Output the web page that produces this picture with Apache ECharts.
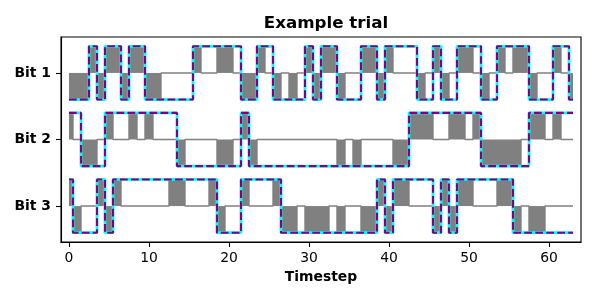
<!DOCTYPE html>
<html>
<head>
<meta charset="utf-8">
<script src="https://cdn.jsdelivr.net/npm/echarts@6/dist/echarts.min.js"></script>
<style>html,body{margin:0;padding:0;background:#fff}#c{width:600px;height:300px}</style>
</head>
<body>
<div id="c"></div>
<script>
// ---- data ----
const timesteps = Array.from({length: 64}, (_, i) => i);
const bitLabels = ['Bit 1', 'Bit 2', 'Bit 3'];      // top to bottom
const bitOffsets = [5, 2.5, 0];                      // vertical spacing 2.5
const xTickValues = [0, 10, 20, 30, 40, 50, 60];

const inputBit1 = [-1,-1,-1,1,-1,1,1,-1,1,1, -1,-1,0,0,0,0,1,0,0,1, 1,0,-1,-1,1,0,-1,0,-1,0,
                   1,-1,1,1,-1,0,0,1,1,-1, 1,0,0,0,-1,0,1,-1,0,1, 1,0,-1,0,1,0,1,1,-1,0, 0,1,0,-1];
const inputBit2 = [1,0,-1,-1,0,1,0,0,1,0, 1,0,0,0,-1,0,0,0,0,-1, -1,0,1,-1,0,0,0,0,0,0,
                   0,0,0,0,-1,0,-1,0,0,0, 0,-1,-1,1,1,1,0,0,1,1, 0,1,-1,-1,-1,-1,-1,0,1,1, 0,1,0,0];
const inputBit3 = [1,-1,0,0,1,-1,1,0,0,0, 0,0,0,1,1,0,0,0,1,-1, 0,0,1,0,0,0,1,-1,-1,0,
                   -1,-1,-1,0,-1,0,0,-1,-1,1, -1,1,1,0,0,0,-1,1,-1,1, 1,0,0,0,1,1,-1,0,-1,-1, 0,0,0,0];

const targetBit1 = [-1,-1,-1,1,-1,1,1,-1,1,1, -1,-1,-1,-1,-1,-1,1,1,1,1, 1,1,-1,-1,1,1,-1,-1,-1,-1,
                    1,-1,1,1,-1,-1,-1,1,1,-1, 1,1,1,1,-1,-1,1,-1,-1,1, 1,1,-1,-1,1,1,1,1,-1,-1, -1,1,1,-1];
const targetBit2 = [1,1,-1,-1,-1,1,1,1,1,1, 1,1,1,1,-1,-1,-1,-1,-1,-1, -1,-1,1,-1,-1,-1,-1,-1,-1,-1,
                    -1,-1,-1,-1,-1,-1,-1,-1,-1,-1, -1,-1,-1,1,1,1,1,1,1,1, 1,1,-1,-1,-1,-1,-1,-1,1,1, 1,1,1,1];
const targetBit3 = [1,-1,-1,-1,1,-1,1,1,1,1, 1,1,1,1,1,1,1,1,1,-1, -1,-1,1,1,1,1,1,-1,-1,-1,
                    -1,-1,-1,-1,-1,-1,-1,-1,-1,1, -1,1,1,1,1,1,-1,1,-1,1, 1,1,1,1,1,1,-1,-1,-1,-1, -1,-1,-1,-1];

// RNN output follows the target in the picture
const outputBit1 = targetBit1;
const outputBit2 = targetBit2;
const outputBit3 = targetBit3;

const inputs = [inputBit1, inputBit2, inputBit3];
const targets = [targetBit1, targetBit2, targetBit3];
const outputs = [outputBit1, outputBit2, outputBit3];

const FONT = 'DejaVu Sans';
const GRAY = '#808080', CYAN = '#00ffff', PURPLE = '#800080';
const tMin = timesteps[0], tMax = timesteps[timesteps.length - 1];

const series = [];
// draw bottom bit first (as in the original)
for (let b = bitLabels.length - 1; b >= 0; b--) {
  const off = bitOffsets[b];
  const inp = inputs[b];
  const zBase = (bitLabels.length - 1 - b) * 4;
  series.push({
    type: 'custom',
    z: zBase + 1,
    silent: true,
    data: timesteps.filter(t => inp[t] !== 0).map(t => [t, inp[t]]),
    renderItem: function (params, api) {
      const t = api.value(0), v = api.value(1);
      const x0 = Math.max(t - 0.5, tMin), x1 = Math.min(t + 0.5, tMax);
      const p0 = api.coord([x0, off]);
      const p1 = api.coord([x1, off + v]);
      return {
        type: 'rect',
        shape: {x: Math.min(p0[0], p1[0]), y: Math.min(p0[1], p1[1]),
                width: Math.abs(p1[0] - p0[0]), height: Math.abs(p1[1] - p0[1])},
        style: {fill: GRAY}
      };
    }
  });
  series.push({
    type: 'line', step: 'middle', showSymbol: false, silent: true, z: zBase + 2,
    data: timesteps.map(t => [t, off + inp[t]]),
    lineStyle: {color: GRAY, width: 1.4}
  });
  series.push({
    type: 'line', step: 'middle', showSymbol: false, silent: true, z: zBase + 3,
    data: timesteps.map(t => [t, off + targets[b][t]]),
    lineStyle: {color: CYAN, width: 2.8}
  });
  series.push({
    type: 'line', step: 'middle', showSymbol: false, silent: true, z: zBase + 4,
    data: timesteps.map(t => [t, off + outputs[b][t]]),
    lineStyle: {color: PURPLE, width: 2.1, type: [7.7, 3.3]}
  });
}

const chart = echarts.init(document.getElementById('c'), null, {renderer: 'canvas'});
chart.setOption({
  animation: false,
  backgroundColor: '#fff',
  title: {
    text: 'Example trial', left: 321, top: 10, textAlign: 'center',
    textStyle: {fontFamily: FONT, fontSize: 16.7, fontWeight: 'bold', color: '#000'}
  },
  grid: {left: 61, top: 37, width: 520, height: 205, show: true, borderColor: '#000', borderWidth: 1.1, containLabel: false},
  xAxis: {
    type: 'value', min: -1, max: 64,
    name: 'Timestep', nameLocation: 'middle', nameGap: 27,
    nameTextStyle: {fontFamily: FONT, fontSize: 13.9, fontWeight: 'bold', color: '#000'},
    axisLine: {show: true, onZero: false, lineStyle: {color: '#000', width: 1.1}},
    axisTick: {show: true, inside: false, length: 5, lineStyle: {color: '#000', width: 1.1}, customValues: xTickValues},
    axisLabel: {fontFamily: FONT, fontSize: 13.9, color: '#000', margin: 9, customValues: xTickValues},
    splitLine: {show: false}
  },
  yAxis: {
    type: 'value', min: -1.35, max: 6.35,
    axisLine: {show: true, onZero: false, lineStyle: {color: '#000', width: 1.1}},
    axisTick: {show: true, inside: false, length: 5, lineStyle: {color: '#000', width: 1.1}, customValues: bitOffsets},
    axisLabel: {
      fontFamily: FONT, fontSize: 13.9, fontWeight: 'bold', color: '#000', margin: 10,
      customValues: bitOffsets,
      formatter: v => { const i = bitOffsets.indexOf(v); return i >= 0 ? bitLabels[i] : ''; }
    },
    splitLine: {show: false}
  },
  series: series
});
</script>
</body>
</html>
